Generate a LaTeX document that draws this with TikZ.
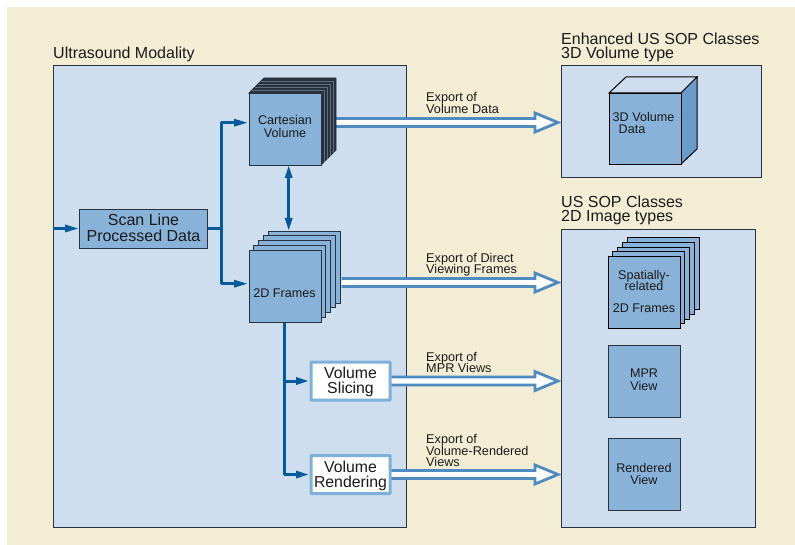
\documentclass[tikz,border=0pt]{standalone}
\usepackage{fontspec}
\setmainfont{Liberation Sans}
\usetikzlibrary{calc}
\definecolor{bgbeige}{HTML}{F4EDD6}
\definecolor{panelblue}{HTML}{CFDEEE}
\definecolor{boxblue}{HTML}{88B2D8}
\definecolor{sideblue}{HTML}{6A9CCB}
\definecolor{darkslate}{HTML}{26323F}
\definecolor{linkblue}{HTML}{005A9C}
\definecolor{exportblue}{HTML}{4F8AC1}
\definecolor{slicerim}{HTML}{7FB0DA}
\definecolor{txt}{HTML}{1A1A1A}
\tikzset{
 x=1pt,y=-1pt,
 panel/.style={draw=darkslate,line width=0.9pt,fill=panelblue},
 bluebox/.style={draw=darkslate,line width=0.9pt,fill=boxblue,minimum width=72pt,minimum height=72pt,inner sep=0pt},
 rimbox/.style={draw=slicerim,line width=3pt,fill=white,rounded corners=0.5pt,minimum width=79pt,minimum height=38pt,inner sep=0pt},
 rimtext/.style={align=center,font=\fontsize{15.8}{15}\selectfont,text=txt},
 label/.style={anchor=west,inner sep=0pt,align=left,text=txt},
 small/.style={font=\fontsize{12.6}{12.5}\selectfont,text=txt,align=center},
 exp/.style={label,font=\fontsize{12.7}{11.5}\selectfont},
 head/.style={label,font=\fontsize{16}{14.5}\selectfont},
 link/.style={draw=linkblue,line width=3pt,line join=round},
 tip/.style={fill=linkblue,draw=none},
}
\newcommand{\hollow}[2]{%
 \path let \p1=(#1),\p2=(#2) in
 [fill=white,draw=exportblue,line width=2.8pt,miter limit=10]
 (\x1,\y1+4pt) -- (\x2-23pt,\y1+4pt) -- (\x2-23pt,\y1+9.5pt) -- (\x2,\y1)
 -- (\x2-23pt,\y1-9.5pt) -- (\x2-23pt,\y1-4pt) -- (\x1,\y1-4pt);
}
\begin{document}
\begin{tikzpicture}
\lineskiplimit=-20pt
\useasboundingbox (0,0) rectangle (795,545);
\fill[white] (0,0) rectangle (795,545);
\fill[bgbeige] (7,7.5) rectangle (795,545);
% panels
\draw[panel] (53,65) rectangle (406,527);
\draw[panel] (561,65) rectangle (761,177);
\draw[panel] (561,229) rectangle (755,527);
% headings
\node[head] (tUM) at (53,54.5) {Ultrasound Modality};
\node[head] (tEn) at (561,47.5) {Enhanced US SOP Classes\\3D Volume type};
\node[head] (tUS) at (561,210.5) {US SOP Classes\\2D Image types};
% hollow export arrows
\coordinate (e1a) at (336,122.5); \coordinate (e1b) at (558,122.5);
\coordinate (e2a) at (341.5,282.5); \coordinate (e2b) at (558,282.5);
\coordinate (e3a) at (391,381); \coordinate (e3b) at (558,381);
\coordinate (e4a) at (391,474.5); \coordinate (e4b) at (558,474.5);
\hollow{e1a}{e1b}\hollow{e2a}{e2b}\hollow{e3a}{e3b}\hollow{e4a}{e4b}
\node[exp] (l1) at (426,103) {Export of\\Volume Data};
\node[exp] (l2) at (426,264.5) {Export of Direct\\Viewing Frames};
\node[exp] (l3) at (426,362.5) {Export of\\MPR Views};
\node[exp] (l4) at (426,450.5) {Export of\\Volume-Rendered\\Views};
% Cartesian volume stack
\draw[draw=darkslate,line width=0.8pt,fill=darkslate] (249,93) -- (264,78) -- (336,78) -- (336,150) -- (321,165) -- (321,93) -- cycle;
\foreach \i in {1,2,3,4}{
 \pgfmathsetmacro{\dx}{\i*3}
 \draw[draw=darkslate!65!panelblue,line width=0.4pt] (321+\dx,93-\dx) -- (321+\dx,165-\dx);
 \draw[draw=darkslate!65!panelblue,line width=0.4pt] (249+\dx,93-\dx) -- (321+\dx,93-\dx);
}
\node[bluebox] (cv) at (285,129) {};
\node[small] (cvt) at (285,126.5) {Cartesian\\Volume};
% 2D frames stack
\foreach \i in {4,3,2,1}{
 \pgfmathsetmacro{\dx}{\i*4.85}
 \draw[draw=darkslate,line width=0.9pt,fill=boxblue] (249+\dx,250.5-\dx) rectangle (321+\dx,322.5-\dx);
}
\node[bluebox] (fr) at (285,286.5) {};
\node[small] (frt) at (284.5,293.5) {2D Frames};
% scan line box
\node[bluebox,minimum width=128pt,minimum height=39pt] (sl) at (143.5,229) {};
\node[align=center,font=\fontsize{16}{16}\selectfont,text=txt] (slt) at (143.5,227.5) {Scan Line\\Processed Data};
% slicing / rendering
\node[rimbox] (vs) at (350.5,381) {};
\node[rimtext] (vst) at (350.5,381.5) {Volume\\Slicing};
\node[rimbox] (vr) at (350.5,474.5) {};
\node[rimtext] (vrt) at (350.5,476) {Volume\\Rendering};
% right cube
\draw[draw=black,line width=1pt,fill=panelblue] (609,93) -- (626,77) -- (697,77) -- (681,93) -- cycle;
\draw[draw=black,line width=1pt,fill=sideblue] (681,93) -- (697,77) -- (697,149) -- (681,164) -- cycle;
\node[bluebox,draw=black,minimum height=71pt] (cube) at (645,128.5) {};
\node[text=txt,anchor=west,inner sep=0pt,align=left,font=\fontsize{12.6}{12}\selectfont] (cubet) at (612.5,122.5) {3D Volume\\\hspace{6pt}Data};
% spatial frames
\foreach \i in {4,3,2,1}{
 \pgfmathsetmacro{\dx}{\i*4.75}
 \draw[draw=black,line width=0.9pt,fill=boxblue] (608+\dx,256.5-\dx) rectangle (680+\dx,328.5-\dx);
}
\node[bluebox,draw=black] (sp) at (644,292.5) {};
\node[text=txt,align=center,font=\fontsize{12.6}{11}\selectfont] (spt) at (644,280) {Spatially-\\related};
\node[small] (spt2) at (644,308) {2D Frames};
\node[bluebox] (mpr) at (644,381) {};
\node[small,font=\fontsize{12.6}{13}\selectfont] (mprt) at (644,380) {MPR\\View};
\node[bluebox] (rv) at (644,474.5) {};
\node[small,font=\fontsize{12.6}{12}\selectfont] (rvt) at (644,473.5) {Rendered\\View};
% connectors
\coordinate (in) at (53,228.5);
\coordinate (j1) at (221.5,229);
\coordinate (j2) at (284,381);
\coordinate (j3) at (284,474.5);
\draw[link] (in) -- (68,228.5);
\fill[tip] (78,228.5) -- (65,224.5) -- (65,232.5) -- cycle;
\draw[link] (sl.east) -- (j1);
\draw[link] (236,122.7) -| (j1) |- (236,283.7);
\fill[tip] (247,122.7) -- (234,118.7) -- (234,126.7) -- cycle;
\fill[tip] (247,283.7) -- (234,279.7) -- (234,287.7) -- cycle;
\draw[link] (288.7,176) -- (288.7,220);
\fill[tip] (288.7,166) -- (284.7,178) -- (292.7,178) -- cycle;
\fill[tip] (288.7,230) -- (284.7,218) -- (292.7,218) -- cycle;
\draw[link] (fr.south -| j2) |- (298,474.5);
\draw[link] (j2) -- (298,381);
\fill[tip] (308,381) -- (296,377) -- (296,385) -- cycle;
\fill[tip] (308,474.5) -- (296,470.5) -- (296,478.5) -- cycle;
\end{tikzpicture}
\end{document}
